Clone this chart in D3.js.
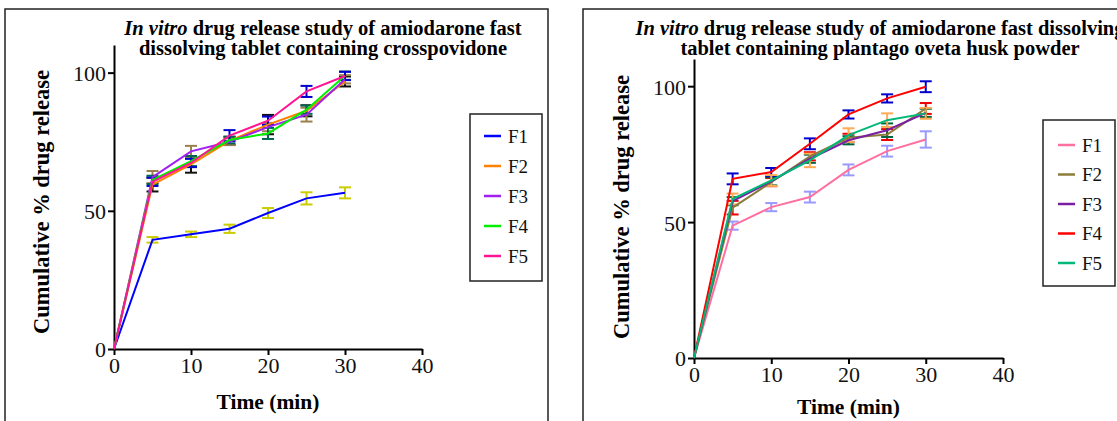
<!DOCTYPE html>
<html>
<head>
<meta charset="utf-8">
<script src="https://cdn.jsdelivr.net/npm/d3@7"></script>
<style>
  body { margin: 0; background: #fff; }
  svg, svg text { font-family: "Liberation Serif", "Times New Roman", Tinos, "DejaVu Serif", serif; }
</style>
</head>
<body>
<div id="chart"></div>
<script>
// time points (min)
var times = [0, 5, 10, 15, 20, 25, 30];
var series = ["F1", "F2", "F3", "F4", "F5"];

// crosspovidone batches
var cpF1 = [0, 39.5, 41.5, 43.5, 49.2, 54.5, 56.5];
var cpF2 = [0, 59.5, 66.8, 75.3, 81.2, 86.2, 96.8];
var cpF3 = [0, 62.2, 71.5, 75.0, 80.3, 84.8, 97.6];
var cpF4 = [0, 61.2, 68.0, 75.6, 78.0, 86.6, 98.9];
var cpF5 = [0, 60.5, 67.3, 77.2, 82.6, 93.2, 98.8];
var cpErr1 = [0, 1.0, 1.0, 1.5, 1.8, 2.2, 2.0];
var cpErr2 = [0, 2.5, 3.0, 1.5, 3.5, 2.0, 1.8];
var cpErr3 = [0, 2.2, 2.0, 1.2, 1.5, 2.5, 1.5];
var cpErr4 = [0, 1.5, 1.8, 1.2, 2.0, 1.5, 1.5];
var cpErr5 = [0, 1.5, 1.5, 2.0, 1.5, 2.0, 1.5];

// plantago ovata husk powder batches
var poF1 = [0, 48.7, 55.5, 59.2, 69.2, 76.1, 80.4];
var poF2 = [0, 55.3, 64.7, 74.2, 81.0, 82.2, 91.8];
var poF3 = [0, 57.7, 65.0, 73.3, 80.1, 83.8, 90.2];
var poF4 = [0, 65.9, 68.4, 78.8, 89.6, 95.5, 99.8];
var poF5 = [0, 58.5, 65.3, 72.7, 82.0, 87.5, 90.0];
var poErr1 = [0, 1.5, 1.5, 2.0, 2.0, 2.0, 3.0];
var poErr2 = [0, 2.5, 1.5, 1.5, 1.5, 2.0, 2.0];
var poErr3 = [0, 1.5, 1.5, 1.5, 1.5, 2.5, 1.5];
var poErr4 = [0, 2.0, 1.5, 2.0, 1.5, 1.5, 2.0];
var poErr5 = [0, 2.0, 2.0, 2.5, 2.5, 2.5, 2.0];

var yTicks = [0, 50, 100];
var xTicks = [0, 10, 20, 30, 40];

var FONT = "Liberation Serif, Times New Roman, Tinos, DejaVu Serif, serif";

var svg = d3.select("#chart").append("svg")
    .attr("width", 1117)
    .attr("height", 421)
    .attr("font-family", FONT);

function drawPanel(cfg) {
  var g = svg.append("g");

  // outer frame
  g.append("rect")
      .attr("x", cfg.frame[0]).attr("y", cfg.frame[1])
      .attr("width", cfg.frame[2]).attr("height", cfg.frame[3])
      .attr("fill", "none").attr("stroke", "#222").attr("stroke-width", 1.5);

  var x = d3.scaleLinear().domain([0, 40]).range([cfg.left, cfg.right]);
  var y = d3.scaleLinear().domain([0, 110]).range([cfg.bottom, cfg.top]);

  // axes
  var xAxis = g.append("g")
      .attr("transform", "translate(0," + cfg.bottom + ")")
      .call(d3.axisBottom(x).tickValues(xTicks).tickSize(6).tickPadding(2).tickSizeOuter(0));
  var yAxis = g.append("g")
      .attr("transform", "translate(" + cfg.left + ",0)")
      .call(d3.axisLeft(y).tickValues(yTicks).tickSize(6).tickPadding(2).tickSizeOuter(0));
  [xAxis, yAxis].forEach(function(a) {
    a.attr("font-family", FONT).attr("font-size", 22);
    a.select(".domain").attr("stroke", "#000").attr("stroke-width", 2);
    a.selectAll(".tick line").attr("stroke", "#000").attr("stroke-width", 2);
    a.selectAll(".tick text").attr("fill", "#111");
  });
  yAxis.selectAll(".tick text").attr("dy", "0.36em");

  var line = d3.line()
      .x(function(d, i) { return x(times[i]); })
      .y(function(d) { return y(d); });

  // error bars
  cfg.data.forEach(function(vals, s) {
    var errs = cfg.errs[s];
    var eb = g.append("g").attr("stroke", cfg.errColors[s]).attr("stroke-width", 2);
    vals.forEach(function(v, i) {
      if (!errs[i]) return;
      var cx = x(times[i]);
      eb.append("line").attr("x1", cx).attr("x2", cx)
          .attr("y1", y(v - errs[i])).attr("y2", y(v + errs[i]));
      [v - errs[i], v + errs[i]].forEach(function(e) {
        eb.append("line").attr("x1", cx - 6).attr("x2", cx + 6)
            .attr("y1", y(e)).attr("y2", y(e));
      });
    });
  });

  // series lines
  cfg.data.forEach(function(vals, s) {
    g.append("path")
        .attr("d", line(vals))
        .attr("fill", "none")
        .attr("stroke", cfg.colors[s])
        .attr("stroke-width", 2);
  });

  // title
  var title = g.append("text")
      .attr("text-anchor", "middle")
      .attr("font-weight", "bold")
      .attr("font-size", 20.5);
  title.append("tspan").attr("x", cfg.titleX).attr("y", 35)
      .attr("font-style", "italic").text("In vitro");
  title.append("tspan").text(cfg.title1);
  g.append("text")
      .attr("x", cfg.titleX).attr("y", 55)
      .attr("text-anchor", "middle")
      .attr("font-weight", "bold")
      .attr("font-size", 20.5)
      .text(cfg.title2);

  // axis labels
  g.append("text")
      .attr("transform", "translate(" + cfg.yLabel[0] + "," + cfg.yLabel[1] + ") rotate(-90)")
      .attr("text-anchor", "middle")
      .attr("font-weight", "bold")
      .attr("font-size", 22.5)
      .text("Cumulative % drug release");
  g.append("text")
      .attr("x", x(20)).attr("y", cfg.xLabelY)
      .attr("text-anchor", "middle")
      .attr("font-weight", "bold")
      .attr("font-size", 21.5)
      .text("Time (min)");

  // legend
  var lg = cfg.legend;
  g.append("rect")
      .attr("x", lg.x).attr("y", lg.y).attr("width", lg.w).attr("height", lg.h)
      .attr("fill", "#fff").attr("stroke", "#222").attr("stroke-width", 1.5);
  series.forEach(function(name, s) {
    var ly = lg.y + lg.first + s * lg.step;
    g.append("line")
        .attr("x1", lg.x + lg.pad).attr("x2", lg.x + lg.pad + 17)
        .attr("y1", ly).attr("y2", ly)
        .attr("stroke", cfg.colors[s]).attr("stroke-width", 2.5);
    g.append("text")
        .attr("x", lg.x + lg.pad + 24).attr("y", ly)
        .attr("dy", "0.35em")
        .attr("font-size", 19)
        .attr("fill", "#111")
        .text(name);
  });
}

drawPanel({
  frame: [5, 9, 543, 430],
  left: 114, right: 422, top: 45, bottom: 349,
  data: [cpF1, cpF2, cpF3, cpF4, cpF5],
  errs: [cpErr1, cpErr2, cpErr3, cpErr4, cpErr5],
  colors: ["#0000ff", "#ff8000", "#a020f0", "#00ee00", "#ff1493"],
  errColors: ["#cccc00", "#111111", "#99804d", "#006650", "#0000cc"],
  titleX: 323,
  title1: " drug release study of amiodarone fast",
  title2: "dissolving tablet containing crosspovidone",
  yLabel: [49, 202],
  xLabelY: 409,
  legend: { x: 470, y: 114, w: 72, h: 167, pad: 14, first: 22, step: 30 }
});

drawPanel({
  frame: [583, 9, 560, 430],
  left: 694, right: 1003, top: 59, bottom: 358,
  data: [poF1, poF2, poF3, poF4, poF5],
  errs: [poErr1, poErr2, poErr3, poErr4, poErr5],
  colors: ["#ff6f9f", "#8b7d3a", "#7a1fa2", "#ff0000", "#00b877"],
  errColors: ["#9999ff", "#ee0000", "#006640", "#0000cc", "#ffaa55"],
  titleX: 880,
  title1: " drug release study of amiodarone fast  dissolving",
  title2: "tablet containing plantago oveta husk powder",
  yLabel: [629, 207],
  xLabelY: 414,
  legend: { x: 1043, y: 120, w: 72, h: 166, pad: 15, first: 25, step: 29.5 }
});
</script>
</body>
</html>
